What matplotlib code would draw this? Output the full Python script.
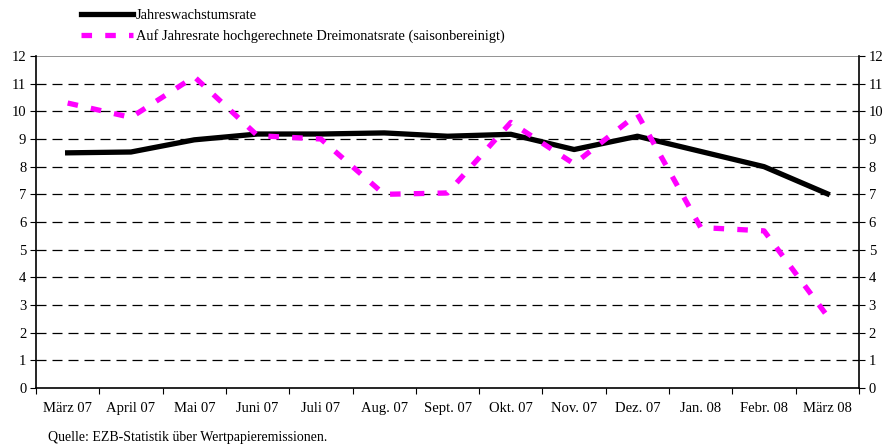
import numpy as np
import matplotlib.pyplot as plt
from matplotlib.lines import Line2D

plt.rcParams['font.family'] = ['Liberation Serif', 'DejaVu Serif']

months = ['März 07', 'April 07', 'Mai 07', 'Juni 07', 'Juli 07', 'Aug. 07', 'Sept. 07',
          'Okt. 07', 'Nov. 07', 'Dez. 07', 'Jan. 08', 'Febr. 08', 'März 08']
annual_growth = [8.5, 8.53, 8.97, 9.18, 9.18, 9.22, 9.1, 9.17, 8.62, 9.1, 8.55, 8.0, 7.02]
three_month = [10.3, 9.78, 11.25, 9.12, 9.0, 7.0, 7.05, 9.6, 8.1, 9.9, 5.8, 5.68, 2.6]

fig = plt.figure(figsize=(8.9, 4.48), dpi=100)
ax = fig.add_axes([36 / 890, 1 - 388 / 448, (859 - 36) / 890, (388 - 56) / 448])

x = np.arange(len(months))
ax.plot(x, annual_growth, color='black', lw=3.8, solid_joinstyle='round', zorder=3)
ax.plot(x, three_month, color='#ff00ff', lw=3.8, dashes=(2.0, 2.5), zorder=3)

ax.set_xlim(-0.5, len(months) - 0.5)
ax.set_ylim(0, 12)

# horizontal dashed gridlines
for v in range(1, 12):
    ax.axhline(v, color='black', lw=0.9, dashes=(8, 4.8), zorder=1)
ax.axhline(12, color='#808080', lw=1.2, zorder=1)

ax.set_yticks(range(0, 13))
ax.tick_params(axis='y', which='both', direction='out', length=4, left=True, right=True,
               labelleft=True, labelright=True, labelsize=10.5, pad=3)
ax.set_xticks(np.arange(-0.5, len(months), 1.0))
ax.set_xticklabels([])
ax.set_xticks(x, minor=True)
ax.set_xticklabels(months, minor=True)
ax.tick_params(axis='x', which='major', direction='out', length=4)
ax.tick_params(axis='x', which='minor', length=0, labelsize=10.5, pad=10)

ax.spines['top'].set_visible(False)
for s in ['left', 'right', 'bottom']:
    ax.spines[s].set_linewidth(1.2)

handles = [Line2D([0], [0], color='black', lw=3.8),
           Line2D([0], [0], color='#ff00ff', lw=3.8, dashes=(2.0, 2.5))]
labels = ['Jahreswachstumsrate',
          'Auf Jahresrate hochgerechnete Dreimonatsrate (saisonbereinigt)']
fig.legend(handles, labels, loc='upper left', bbox_to_anchor=(72 / 890, 1.0),
           frameon=False, fontsize=10.4, handlelength=3.6, handletextpad=0.2,
           labelspacing=0.5, borderaxespad=0.2)

fig.text(48 / 890, 1 - 437 / 448, 'Quelle: EZB-Statistik über Wertpapieremissionen.',
         fontsize=10, va='center', ha='left')

fig.savefig('out.png', dpi=100)
